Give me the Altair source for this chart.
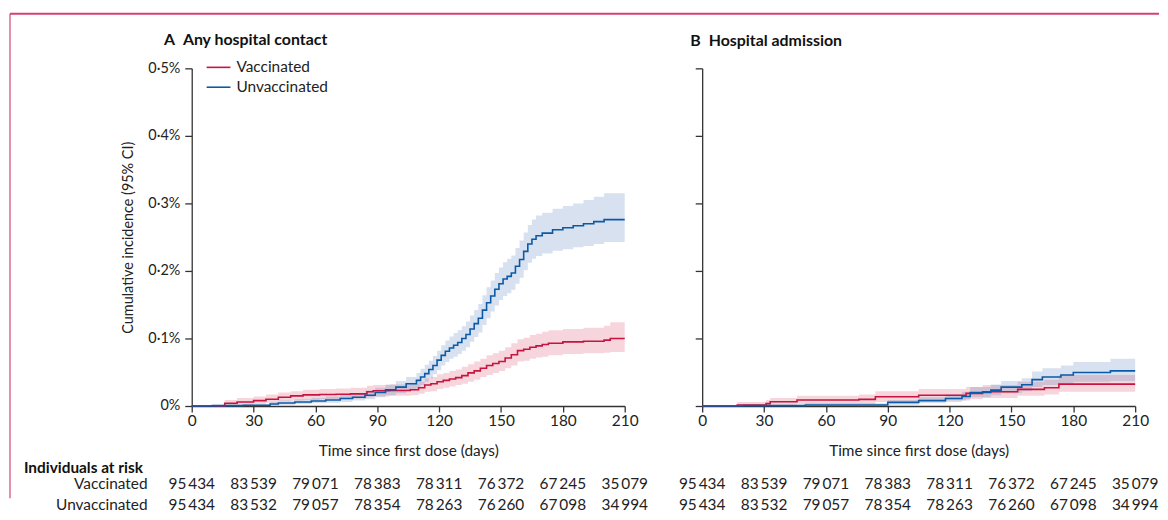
import altair as alt
import pandas as pd

FONT = "Lato"
TXT = "#222222"
AX = "#333333"
RED = "#c8133f"
BLUE = "#0b5aa8"
GROUPS = ["Vaccinated", "Unvaccinated"]

TICK_DAYS = [0, 30, 60, 90, 120, 150, 180, 210]

# ---- Panel A: any hospital contact (cumulative incidence, %) ----
a_vac_day = [0, 16, 22, 30, 36, 42, 48, 54, 62, 70, 77, 85, 88, 96, 106, 110, 113, 116, 119, 122,
             125, 128, 131, 134, 137, 140, 143, 146, 149, 152, 155, 158, 161, 164, 167, 170, 173,
             180, 190, 200, 203, 210]
a_vac_est = [0, 0.004, 0.006, 0.008, 0.010, 0.013, 0.015, 0.0165, 0.017, 0.0175, 0.018, 0.021, 0.0225,
             0.023, 0.024, 0.027, 0.031, 0.033, 0.036, 0.038, 0.040, 0.042, 0.045, 0.049, 0.052,
             0.056, 0.060, 0.063, 0.066, 0.071, 0.076, 0.082, 0.084, 0.087, 0.089, 0.091, 0.093,
             0.095, 0.096, 0.0975, 0.100, 0.100]
a_vac_lo = [0, 0.001, 0.002, 0.003, 0.005, 0.007, 0.008, 0.009, 0.010, 0.010, 0.011, 0.013, 0.014,
            0.015, 0.016, 0.018, 0.021, 0.022, 0.025, 0.027, 0.029, 0.031, 0.033, 0.036, 0.039,
            0.043, 0.046, 0.049, 0.052, 0.056, 0.060, 0.066, 0.067, 0.070, 0.072, 0.073, 0.075,
            0.077, 0.078, 0.079, 0.080, 0.080]
a_vac_hi = [0, 0.009, 0.012, 0.014, 0.017, 0.020, 0.022, 0.024, 0.025, 0.026, 0.027, 0.030, 0.031,
            0.032, 0.033, 0.036, 0.041, 0.043, 0.047, 0.049, 0.052, 0.054, 0.058, 0.062, 0.066,
            0.070, 0.075, 0.078, 0.082, 0.087, 0.093, 0.099, 0.101, 0.105, 0.107, 0.110, 0.112,
            0.114, 0.116, 0.119, 0.124, 0.124]

a_unv_day = [0, 10, 25, 38, 42, 50, 58, 65, 72, 78, 84, 89, 94, 99, 104, 109, 111, 113, 115, 117,
             119, 121, 123, 125, 127, 129, 131, 133, 135, 137, 139, 141, 143, 145, 147, 149, 151,
             153, 155, 157, 159, 161, 163, 165, 167, 170, 175, 180, 185, 190, 195, 200, 210]
a_unv_est = [0, 0.0005, 0.001, 0.003, 0.0045, 0.006, 0.0075, 0.009, 0.011, 0.013, 0.016, 0.020, 0.024,
             0.028, 0.033, 0.038, 0.043, 0.048, 0.054, 0.060, 0.068, 0.075, 0.081, 0.086, 0.090,
             0.094, 0.100, 0.106, 0.114, 0.122, 0.130, 0.142, 0.153, 0.163, 0.173, 0.181, 0.188,
             0.192, 0.197, 0.207, 0.217, 0.229, 0.240, 0.247, 0.252, 0.256, 0.261, 0.264, 0.267,
             0.270, 0.273, 0.276, 0.276]
a_unv_lo = [0, 0, 0, 0.001, 0.002, 0.003, 0.004, 0.005, 0.006, 0.008, 0.010, 0.013, 0.016, 0.019,
            0.023, 0.027, 0.031, 0.036, 0.041, 0.047, 0.053, 0.060, 0.065, 0.070, 0.073, 0.077,
            0.082, 0.087, 0.095, 0.102, 0.109, 0.120, 0.130, 0.140, 0.149, 0.157, 0.163, 0.167,
            0.172, 0.181, 0.190, 0.201, 0.212, 0.218, 0.222, 0.226, 0.230, 0.232, 0.235, 0.237,
            0.240, 0.243, 0.243]
a_unv_hi = [0, 0.002, 0.003, 0.006, 0.008, 0.010, 0.012, 0.014, 0.016, 0.019, 0.023, 0.027, 0.032,
            0.037, 0.043, 0.049, 0.055, 0.061, 0.067, 0.074, 0.082, 0.090, 0.097, 0.103, 0.108,
            0.112, 0.118, 0.125, 0.134, 0.142, 0.151, 0.164, 0.176, 0.186, 0.197, 0.205, 0.213,
            0.218, 0.223, 0.234, 0.245, 0.257, 0.268, 0.276, 0.282, 0.286, 0.292, 0.296, 0.300,
            0.305, 0.310, 0.315, 0.315]

# ---- Panel B: hospital admission ----
b_vac_day = [0, 17, 31, 33, 46, 76, 84, 105, 128, 136, 153, 166, 173, 210]
b_vac_est = [0, 0.0015, 0.0035, 0.0064, 0.0088, 0.0098, 0.0138, 0.016, 0.0187, 0.021, 0.0246, 0.027,
             0.0324, 0.0324]
b_vac_lo = [0, 0, 0.001, 0.002, 0.003, 0.003, 0.006, 0.008, 0.010, 0.012, 0.015, 0.017, 0.021, 0.021]
b_vac_hi = [0, 0.006, 0.009, 0.012, 0.015, 0.017, 0.022, 0.025, 0.028, 0.031, 0.036, 0.039, 0.046,
            0.046]

b_unv_day = [0, 20, 50, 90, 105, 118, 126, 130, 140, 145, 155, 160, 165, 174, 180, 198, 210]
b_unv_est = [0, 0.0005, 0.0015, 0.0054, 0.008, 0.011, 0.014, 0.020, 0.0235, 0.028, 0.0315, 0.039,
             0.043, 0.046, 0.0496, 0.052, 0.052]
b_unv_lo = [0, 0, 0, 0.002, 0.004, 0.006, 0.008, 0.013, 0.016, 0.019, 0.022, 0.028, 0.031, 0.033,
            0.036, 0.037, 0.037]
b_unv_hi = [0, 0.002, 0.004, 0.009, 0.013, 0.017, 0.021, 0.028, 0.032, 0.037, 0.041, 0.051, 0.056,
            0.060, 0.065, 0.070, 0.071]

# ---- Individuals at risk ----
risk_vac = ["95\u2009434", "83\u2009539", "79\u2009071", "78\u2009383", "78\u2009311", "76\u2009372",
            "67\u2009245", "35\u2009079"]
risk_unv = ["95\u2009434", "83\u2009532", "79\u2009057", "78\u2009354", "78\u2009263", "76\u2009260",
            "67\u2009098", "34\u2009994"]

W, H = 436, 340
FS = 15.5


def curve(days, est, lo, hi, group):
    return pd.DataFrame({"day": days, "est": est, "lo": lo, "hi": hi, "group": group,
                         "band": group})


line_scale = alt.Scale(domain=GROUPS, range=[RED, BLUE])
band_scale = alt.Scale(domain=GROUPS, range=["#d0334f", "#3a67b0"])

xs = alt.Scale(domain=[0, 210], nice=False, zero=False)
ys = alt.Scale(domain=[0, 0.5], nice=False)

ylabel = "datum.value == 0 ? '0%' : replace(format(datum.value, '.1f'), '.', '\u00b7') + '%'"


def x_enc():
    return alt.X("day:Q", scale=xs, axis=alt.Axis(
        values=TICK_DAYS, title="Time since first dose (days)", grid=False, labelFlush=False,
        tickSize=6, labelPadding=2, titlePadding=14, labelFontSize=FS, titleFontSize=FS,
        titleFontWeight="normal", labelColor=TXT, titleColor=TXT, domainColor=AX, tickColor=AX,
        domainWidth=1.3, tickWidth=1.3, labelFont=FONT, titleFont=FONT))


def y_axis(show_labels):
    if show_labels:
        return alt.Axis(values=[0, 0.1, 0.2, 0.3, 0.4, 0.5], labelExpr=ylabel, grid=False,
                        title="Cumulative incidence (95% CI)", tickSize=7, labelPadding=5,
                        titlePadding=12, labelFontSize=14.5, titleFontSize=14.5, labelFlush=False,
                        titleFontWeight="normal", labelColor=TXT, titleColor=TXT, domainColor=AX,
                        tickColor=AX, domainWidth=1.3, tickWidth=1.3, labelFont=FONT, titleFont=FONT)
    return alt.Axis(values=[0, 0.1, 0.2, 0.3, 0.4, 0.5], labels=False, title=None, grid=False,
                    tickSize=7, domainColor=AX, tickColor=AX, domainWidth=1.3, tickWidth=1.3)


def legend_layers():
    # key drawn in the upper-left corner of panel A
    out = []
    for i, (name, col) in enumerate(zip(GROUPS, [RED, BLUE])):
        d = pd.DataFrame({"t": [name]})
        yy = -1 + 20 * i
        out.append(alt.Chart(d).mark_rule(color=col, strokeWidth=1.6).encode(
            x=alt.value(15), x2=alt.value(39), y=alt.value(yy)))
        out.append(alt.Chart(d).mark_text(align="left", baseline="middle", font=FONT,
                                          fontSize=FS, color=TXT).encode(
            x=alt.value(45), y=alt.value(yy), text="t:N"))
    return out


def panel(vac, unv, title, dx, dy, main):
    layers = []
    for df in (vac, unv):
        layers.append(alt.Chart(df).mark_area(interpolate="step-after", opacity=0.2).encode(
            x=x_enc(),
            y=alt.Y("lo:Q", scale=ys, axis=y_axis(main)),
            y2="hi:Q",
            fill=alt.Fill("band:N", scale=band_scale, legend=None),
        ))
    for df in (vac, unv):
        layers.append(alt.Chart(df).mark_line(interpolate="step-after", strokeWidth=1.6).encode(
            x=x_enc(),
            y=alt.Y("est:Q", scale=ys, axis=y_axis(main)),
            stroke=alt.Stroke("group:N", scale=line_scale, legend=None),
        ))
    if main:
        layers += legend_layers()
    return alt.layer(*layers).properties(
        width=W, height=H,
        title=alt.TitleParams(title, anchor="start", frame="group", dx=dx, dy=dy, offset=10,
                              fontSize=16, fontWeight="bold", font=FONT, color="#111111",
                              baseline="alphabetic"))


def table(main):
    rows = ["Vaccinated"] * len(TICK_DAYS) + ["Unvaccinated"] * len(TICK_DAYS)
    df = pd.DataFrame({"day": TICK_DAYS * 2, "row": rows, "n": risk_vac + risk_unv})
    yax = alt.Axis(title=None, domain=False, ticks=False, labelPadding=45, labelFontSize=FS,
                   labelFont=FONT, labelColor=TXT) if main else None
    ch = alt.Chart(df).mark_text(font=FONT, fontSize=FS, color=TXT).encode(
        x=alt.X("day:Q", scale=xs, axis=None),
        y=alt.Y("row:N", sort=GROUPS, axis=yax),
        text="n:N",
    )
    if main:
        return ch.properties(width=W, height=42, title=alt.TitleParams(
            "Individuals at risk", anchor="start", frame="group", dx=-169, dy=16, offset=1,
            fontSize=FS, fontWeight="bold", font=FONT, color="#111111", baseline="alphabetic"))
    # decorative page frame (left and top border), drawn in the last cell
    one = pd.DataFrame({"k": [0]})
    left = alt.Chart(one).mark_rule(color="#e48fab", strokeWidth=2).encode(
        x=alt.value(-697), y=alt.value(-463), y2=alt.value(25))
    top = alt.Chart(one).mark_rule(color="#d6406f", strokeWidth=2).encode(
        x=alt.value(-697), x2=alt.value(460), y=alt.value(-463))
    return alt.layer(ch, left, top).properties(width=W, height=42)


pA = panel(curve(a_vac_day, a_vac_est, a_vac_lo, a_vac_hi, "Vaccinated"),
           curve(a_unv_day, a_unv_est, a_unv_lo, a_unv_hi, "Unvaccinated"),
           "A\u2002Any hospital contact", -28, 10, True)
pB = panel(curve(b_vac_day, b_vac_est, b_vac_lo, b_vac_hi, "Vaccinated"),
           curve(b_unv_day, b_unv_est, b_unv_lo, b_unv_hi, "Unvaccinated"),
           "B\u2002Hospital admission", -12, 4, False)

chart = alt.concat(pA, pB, table(True), table(False), columns=2,
                   spacing={"row": 68, "column": 78}, bounds="flush").properties(
    padding={"left": 1, "top": 3, "right": 0, "bottom": 0}
).configure(font=FONT).configure_view(stroke=None)

chart.save("out.html", embed_options={"renderer": "svg", "actions": False})
